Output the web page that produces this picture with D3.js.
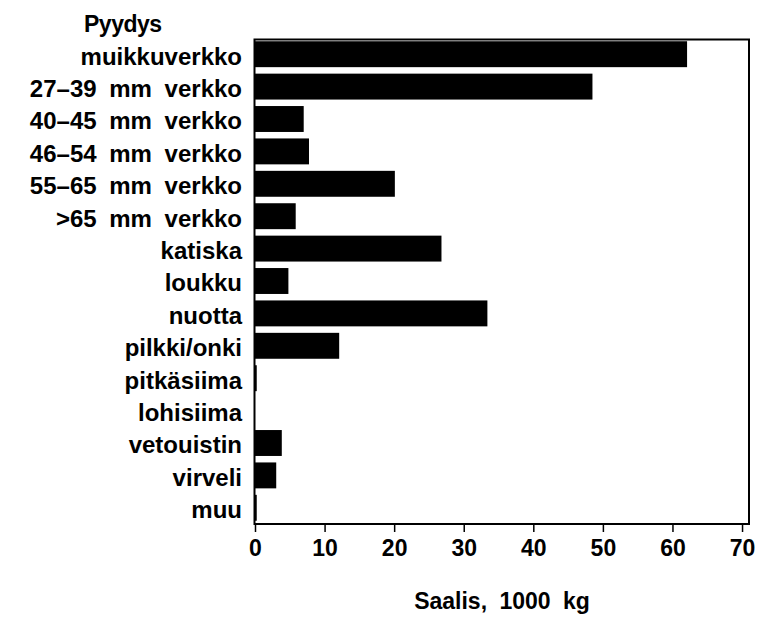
<!DOCTYPE html>
<html>
<head>
<meta charset="utf-8">
<script src="https://cdn.jsdelivr.net/npm/d3@7/dist/d3.min.js"></script>
<style>
  html, body { margin: 0; padding: 0; background: #fff; }
  svg text { font-family: "Liberation Sans", Arial, Helvetica, sans-serif; font-weight: bold; fill: #000; }
</style>
</head>
<body>
<svg id="chart" width="760" height="617"></svg>
<script>
const categories = ["muikkuverkko", "27\u201339 mm verkko", "40\u201345 mm verkko", "46\u201354 mm verkko",
  "55\u201365 mm verkko", ">65 mm verkko", "katiska", "loukku", "nuotta", "pilkki/onki",
  "pitkäsiima", "lohisiima", "vetouistin", "virveli", "muu"];
const values = [62.1, 48.5, 7.0, 7.76, 20.1, 5.85, 26.8, 4.8, 33.4, 12.1, 0.25, 0.0, 3.85, 3.05, 0.25];
const xTicks = [0, 10, 20, 30, 40, 50, 60, 70];
const xMax = 71;
const yTitle = "Pyydys";
const xTitle = "Saalis, 1000 kg";

const svg = d3.select("#chart");
const mLeft = 255, mRight = 749, mTop = 39.5, mBottom = 524;

const x = d3.scaleLinear().domain([0, xMax]).range([mLeft, mRight]);
const y = d3.scaleBand().domain(categories).range([38, mBottom]).paddingInner(0.2).paddingOuter(0.1);

const data = categories.map((c, i) => ({ c, v: values[i] }));

svg.append("g").selectAll("rect").data(data).join("rect")
  .attr("x", x(0))
  .attr("y", d => y(d.c))
  .attr("width", d => x(d.v) - x(0))
  .attr("height", y.bandwidth())
  .attr("fill", "#000");

// frame
svg.append("rect")
  .attr("x", mLeft - 0.5).attr("y", mTop)
  .attr("width", mRight - mLeft + 0.5).attr("height", mBottom - mTop)
  .attr("fill", "none").attr("stroke", "#000").attr("stroke-width", 2);

// x axis
const xAxis = d3.axisBottom(x).tickValues(xTicks).tickSize(8).tickPadding(8).tickFormat(d3.format("d"));
const gx = svg.append("g").attr("transform", `translate(0,${mBottom})`).call(xAxis);
gx.select(".domain").remove();
gx.selectAll(".tick line").attr("stroke", "#000").attr("stroke-width", 1.5);
gx.attr("font-family", null).attr("font-size", null);
gx.selectAll(".tick text").style("font-size", "23px").attr("fill", "#000");

// category labels
svg.append("g").selectAll("text").data(categories).join("text")
  .attr("x", 242)
  .attr("y", d => y(d) + y.bandwidth() / 2)
  .attr("dy", "0.43em")
  .attr("text-anchor", "end")
  .style("font-size", "24px")
  .style("word-spacing", "6px")
  .text(d => d);

svg.append("text")
  .attr("x", 84).attr("y", 32)
  .style("font-size", "23px")
  .style("letter-spacing", "-0.5px")
  .text(yTitle);

svg.append("text")
  .attr("x", (mLeft + mRight) / 2).attr("y", 609)
  .attr("text-anchor", "middle")
  .style("font-size", "23px")
  .style("word-spacing", "6px")
  .text(xTitle);
</script>
</body>
</html>
